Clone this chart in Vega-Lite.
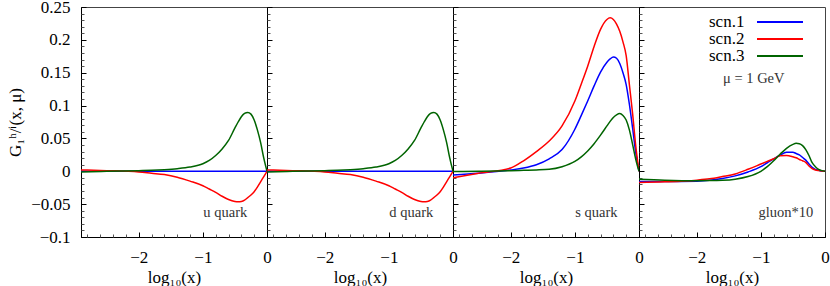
{
"$schema":"https://vega.github.io/schema/vega-lite/v6.json",
"background":"white",
"padding":{"left":6,"top":-3,"right":0,"bottom":0},
"spacing":0,
"bounds":"flush",
"config":{"font":"'Liberation Serif', 'Times New Roman', serif","view":{"stroke":"#444","strokeWidth":1},
"text":{"font":"'Liberation Serif', 'Times New Roman', serif"},
"axis":{"grid":false,"labelFont":"'Liberation Serif', 'Times New Roman', serif","labelFontSize":17,"labelColor":"#000","titleFont":"'Liberation Serif', 'Times New Roman', serif","titleFontSize":17,"titleFontWeight":"normal","titleColor":"#000","tickColor":"#000","domainColor":"#000","labelFlush":false,"labelOverlap":false},
"legend":{"labelFont":"'Liberation Serif', 'Times New Roman', serif"}},
"datasets":{"curves":[
{"p":"u","s":"scn.1","x":-2.9,"y":0},{"p":"u","s":"scn.1","x":-2.5,"y":0},{"p":"u","s":"scn.1","x":-2,"y":0},{"p":"u","s":"scn.1","x":-1.8,"y":0},{"p":"u","s":"scn.1","x":-1.6,"y":0},{"p":"u","s":"scn.1","x":-1.4,"y":0},{"p":"u","s":"scn.1","x":-1.2,"y":0},{"p":"u","s":"scn.1","x":-1,"y":0},{"p":"u","s":"scn.1","x":-0.9,"y":0},{"p":"u","s":"scn.1","x":-0.8,"y":0},{"p":"u","s":"scn.1","x":-0.7,"y":0},{"p":"u","s":"scn.1","x":-0.6,"y":0},{"p":"u","s":"scn.1","x":-0.5,"y":0},{"p":"u","s":"scn.1","x":-0.45,"y":0},{"p":"u","s":"scn.1","x":-0.4,"y":0},{"p":"u","s":"scn.1","x":-0.35,"y":0},{"p":"u","s":"scn.1","x":-0.3,"y":0},{"p":"u","s":"scn.1","x":-0.25,"y":0},{"p":"u","s":"scn.1","x":-0.2,"y":0},{"p":"u","s":"scn.1","x":-0.15,"y":0},{"p":"u","s":"scn.1","x":-0.1,"y":0},{"p":"u","s":"scn.1","x":-0.05,"y":0},{"p":"u","s":"scn.1","x":0,"y":0},
{"p":"u","s":"scn.2","x":-2.9,"y":0.002},{"p":"u","s":"scn.2","x":-2.5,"y":0.001},{"p":"u","s":"scn.2","x":-2,"y":-0.001},{"p":"u","s":"scn.2","x":-1.8,"y":-0.003},{"p":"u","s":"scn.2","x":-1.6,"y":-0.005},{"p":"u","s":"scn.2","x":-1.4,"y":-0.009},{"p":"u","s":"scn.2","x":-1.2,"y":-0.015},{"p":"u","s":"scn.2","x":-1,"y":-0.022},{"p":"u","s":"scn.2","x":-0.9,"y":-0.027},{"p":"u","s":"scn.2","x":-0.8,"y":-0.032},{"p":"u","s":"scn.2","x":-0.7,"y":-0.038},{"p":"u","s":"scn.2","x":-0.6,"y":-0.043},{"p":"u","s":"scn.2","x":-0.5,"y":-0.046},{"p":"u","s":"scn.2","x":-0.45,"y":-0.0465},{"p":"u","s":"scn.2","x":-0.4,"y":-0.046},{"p":"u","s":"scn.2","x":-0.35,"y":-0.044},{"p":"u","s":"scn.2","x":-0.3,"y":-0.04},{"p":"u","s":"scn.2","x":-0.25,"y":-0.036},{"p":"u","s":"scn.2","x":-0.2,"y":-0.031},{"p":"u","s":"scn.2","x":-0.15,"y":-0.024},{"p":"u","s":"scn.2","x":-0.1,"y":-0.016},{"p":"u","s":"scn.2","x":-0.05,"y":-0.008},{"p":"u","s":"scn.2","x":0,"y":0},
{"p":"u","s":"scn.3","x":-2.9,"y":-0.001},{"p":"u","s":"scn.3","x":-2.5,"y":0},{"p":"u","s":"scn.3","x":-2,"y":0.001},{"p":"u","s":"scn.3","x":-1.8,"y":0.0015},{"p":"u","s":"scn.3","x":-1.6,"y":0.0025},{"p":"u","s":"scn.3","x":-1.4,"y":0.004},{"p":"u","s":"scn.3","x":-1.2,"y":0.0065},{"p":"u","s":"scn.3","x":-1,"y":0.0115},{"p":"u","s":"scn.3","x":-0.9,"y":0.0165},{"p":"u","s":"scn.3","x":-0.8,"y":0.024},{"p":"u","s":"scn.3","x":-0.7,"y":0.034},{"p":"u","s":"scn.3","x":-0.6,"y":0.047},{"p":"u","s":"scn.3","x":-0.5,"y":0.066},{"p":"u","s":"scn.3","x":-0.45,"y":0.075},{"p":"u","s":"scn.3","x":-0.4,"y":0.083},{"p":"u","s":"scn.3","x":-0.35,"y":0.088},{"p":"u","s":"scn.3","x":-0.3,"y":0.0895},{"p":"u","s":"scn.3","x":-0.25,"y":0.087},{"p":"u","s":"scn.3","x":-0.2,"y":0.078},{"p":"u","s":"scn.3","x":-0.15,"y":0.063},{"p":"u","s":"scn.3","x":-0.1,"y":0.044},{"p":"u","s":"scn.3","x":-0.05,"y":0.02},{"p":"u","s":"scn.3","x":0,"y":0},
{"p":"d","s":"scn.1","x":-2.9,"y":0},{"p":"d","s":"scn.1","x":-2.5,"y":0},{"p":"d","s":"scn.1","x":-2,"y":0},{"p":"d","s":"scn.1","x":-1.8,"y":0},{"p":"d","s":"scn.1","x":-1.6,"y":0},{"p":"d","s":"scn.1","x":-1.4,"y":0},{"p":"d","s":"scn.1","x":-1.2,"y":0},{"p":"d","s":"scn.1","x":-1,"y":0},{"p":"d","s":"scn.1","x":-0.9,"y":0},{"p":"d","s":"scn.1","x":-0.8,"y":0},{"p":"d","s":"scn.1","x":-0.7,"y":0},{"p":"d","s":"scn.1","x":-0.6,"y":0},{"p":"d","s":"scn.1","x":-0.5,"y":0},{"p":"d","s":"scn.1","x":-0.45,"y":0},{"p":"d","s":"scn.1","x":-0.4,"y":0},{"p":"d","s":"scn.1","x":-0.35,"y":0},{"p":"d","s":"scn.1","x":-0.3,"y":0},{"p":"d","s":"scn.1","x":-0.25,"y":0},{"p":"d","s":"scn.1","x":-0.2,"y":0},{"p":"d","s":"scn.1","x":-0.15,"y":0},{"p":"d","s":"scn.1","x":-0.1,"y":0},{"p":"d","s":"scn.1","x":-0.05,"y":0},{"p":"d","s":"scn.1","x":0,"y":0},
{"p":"d","s":"scn.2","x":-2.9,"y":0.002},{"p":"d","s":"scn.2","x":-2.5,"y":0.001},{"p":"d","s":"scn.2","x":-2,"y":-0.001},{"p":"d","s":"scn.2","x":-1.8,"y":-0.003},{"p":"d","s":"scn.2","x":-1.6,"y":-0.005},{"p":"d","s":"scn.2","x":-1.4,"y":-0.009},{"p":"d","s":"scn.2","x":-1.2,"y":-0.015},{"p":"d","s":"scn.2","x":-1,"y":-0.022},{"p":"d","s":"scn.2","x":-0.9,"y":-0.027},{"p":"d","s":"scn.2","x":-0.8,"y":-0.032},{"p":"d","s":"scn.2","x":-0.7,"y":-0.038},{"p":"d","s":"scn.2","x":-0.6,"y":-0.043},{"p":"d","s":"scn.2","x":-0.5,"y":-0.046},{"p":"d","s":"scn.2","x":-0.45,"y":-0.0465},{"p":"d","s":"scn.2","x":-0.4,"y":-0.046},{"p":"d","s":"scn.2","x":-0.35,"y":-0.044},{"p":"d","s":"scn.2","x":-0.3,"y":-0.04},{"p":"d","s":"scn.2","x":-0.25,"y":-0.036},{"p":"d","s":"scn.2","x":-0.2,"y":-0.031},{"p":"d","s":"scn.2","x":-0.15,"y":-0.024},{"p":"d","s":"scn.2","x":-0.1,"y":-0.016},{"p":"d","s":"scn.2","x":-0.05,"y":-0.008},{"p":"d","s":"scn.2","x":0,"y":0},
{"p":"d","s":"scn.3","x":-2.9,"y":-0.001},{"p":"d","s":"scn.3","x":-2.5,"y":0},{"p":"d","s":"scn.3","x":-2,"y":0.001},{"p":"d","s":"scn.3","x":-1.8,"y":0.0015},{"p":"d","s":"scn.3","x":-1.6,"y":0.0025},{"p":"d","s":"scn.3","x":-1.4,"y":0.004},{"p":"d","s":"scn.3","x":-1.2,"y":0.0065},{"p":"d","s":"scn.3","x":-1,"y":0.0115},{"p":"d","s":"scn.3","x":-0.9,"y":0.0165},{"p":"d","s":"scn.3","x":-0.8,"y":0.024},{"p":"d","s":"scn.3","x":-0.7,"y":0.034},{"p":"d","s":"scn.3","x":-0.6,"y":0.047},{"p":"d","s":"scn.3","x":-0.5,"y":0.066},{"p":"d","s":"scn.3","x":-0.45,"y":0.075},{"p":"d","s":"scn.3","x":-0.4,"y":0.083},{"p":"d","s":"scn.3","x":-0.35,"y":0.088},{"p":"d","s":"scn.3","x":-0.3,"y":0.0895},{"p":"d","s":"scn.3","x":-0.25,"y":0.087},{"p":"d","s":"scn.3","x":-0.2,"y":0.078},{"p":"d","s":"scn.3","x":-0.15,"y":0.063},{"p":"d","s":"scn.3","x":-0.1,"y":0.044},{"p":"d","s":"scn.3","x":-0.05,"y":0.02},{"p":"d","s":"scn.3","x":0,"y":0},
{"p":"s","s":"scn.1","x":-2.9,"y":-0.0056},{"p":"s","s":"scn.1","x":-2.5,"y":-0.003},{"p":"s","s":"scn.1","x":-2,"y":0.002},{"p":"s","s":"scn.1","x":-1.8,"y":0.005},{"p":"s","s":"scn.1","x":-1.6,"y":0.01},{"p":"s","s":"scn.1","x":-1.4,"y":0.019},{"p":"s","s":"scn.1","x":-1.2,"y":0.033},{"p":"s","s":"scn.1","x":-1,"y":0.064},{"p":"s","s":"scn.1","x":-0.9,"y":0.085},{"p":"s","s":"scn.1","x":-0.8,"y":0.107},{"p":"s","s":"scn.1","x":-0.7,"y":0.13},{"p":"s","s":"scn.1","x":-0.6,"y":0.151},{"p":"s","s":"scn.1","x":-0.5,"y":0.166},{"p":"s","s":"scn.1","x":-0.45,"y":0.171},{"p":"s","s":"scn.1","x":-0.4,"y":0.174},{"p":"s","s":"scn.1","x":-0.35,"y":0.172},{"p":"s","s":"scn.1","x":-0.3,"y":0.164},{"p":"s","s":"scn.1","x":-0.25,"y":0.15},{"p":"s","s":"scn.1","x":-0.2,"y":0.132},{"p":"s","s":"scn.1","x":-0.15,"y":0.102},{"p":"s","s":"scn.1","x":-0.1,"y":0.066},{"p":"s","s":"scn.1","x":-0.05,"y":0.028},{"p":"s","s":"scn.1","x":0,"y":0},
{"p":"s","s":"scn.2","x":-2.9,"y":-0.01},{"p":"s","s":"scn.2","x":-2.5,"y":-0.003},{"p":"s","s":"scn.2","x":-2,"y":0.005},{"p":"s","s":"scn.2","x":-1.8,"y":0.016},{"p":"s","s":"scn.2","x":-1.6,"y":0.03},{"p":"s","s":"scn.2","x":-1.4,"y":0.046},{"p":"s","s":"scn.2","x":-1.2,"y":0.069},{"p":"s","s":"scn.2","x":-1,"y":0.107},{"p":"s","s":"scn.2","x":-0.9,"y":0.133},{"p":"s","s":"scn.2","x":-0.8,"y":0.16},{"p":"s","s":"scn.2","x":-0.7,"y":0.19},{"p":"s","s":"scn.2","x":-0.6,"y":0.216},{"p":"s","s":"scn.2","x":-0.5,"y":0.231},{"p":"s","s":"scn.2","x":-0.45,"y":0.2335},{"p":"s","s":"scn.2","x":-0.4,"y":0.231},{"p":"s","s":"scn.2","x":-0.35,"y":0.224},{"p":"s","s":"scn.2","x":-0.3,"y":0.213},{"p":"s","s":"scn.2","x":-0.25,"y":0.197},{"p":"s","s":"scn.2","x":-0.2,"y":0.176},{"p":"s","s":"scn.2","x":-0.15,"y":0.132},{"p":"s","s":"scn.2","x":-0.1,"y":0.088},{"p":"s","s":"scn.2","x":-0.05,"y":0.038},{"p":"s","s":"scn.2","x":0,"y":0},
{"p":"s","s":"scn.3","x":-2.9,"y":-0.0005},{"p":"s","s":"scn.3","x":-2.5,"y":0},{"p":"s","s":"scn.3","x":-2,"y":0.001},{"p":"s","s":"scn.3","x":-1.8,"y":0.0015},{"p":"s","s":"scn.3","x":-1.6,"y":0.002},{"p":"s","s":"scn.3","x":-1.4,"y":0.003},{"p":"s","s":"scn.3","x":-1.2,"y":0.007},{"p":"s","s":"scn.3","x":-1,"y":0.015},{"p":"s","s":"scn.3","x":-0.9,"y":0.022},{"p":"s","s":"scn.3","x":-0.8,"y":0.031},{"p":"s","s":"scn.3","x":-0.7,"y":0.042},{"p":"s","s":"scn.3","x":-0.6,"y":0.055},{"p":"s","s":"scn.3","x":-0.5,"y":0.069},{"p":"s","s":"scn.3","x":-0.45,"y":0.076},{"p":"s","s":"scn.3","x":-0.4,"y":0.082},{"p":"s","s":"scn.3","x":-0.35,"y":0.086},{"p":"s","s":"scn.3","x":-0.3,"y":0.088},{"p":"s","s":"scn.3","x":-0.25,"y":0.085},{"p":"s","s":"scn.3","x":-0.2,"y":0.078},{"p":"s","s":"scn.3","x":-0.15,"y":0.063},{"p":"s","s":"scn.3","x":-0.1,"y":0.041},{"p":"s","s":"scn.3","x":-0.05,"y":0.018},{"p":"s","s":"scn.3","x":0,"y":0},
{"p":"g","s":"scn.1","x":-2.9,"y":-0.0157},{"p":"g","s":"scn.1","x":-2.5,"y":-0.0157},{"p":"g","s":"scn.1","x":-2,"y":-0.015},{"p":"g","s":"scn.1","x":-1.8,"y":-0.0138},{"p":"g","s":"scn.1","x":-1.6,"y":-0.011},{"p":"g","s":"scn.1","x":-1.4,"y":-0.007},{"p":"g","s":"scn.1","x":-1.2,"y":-0.001},{"p":"g","s":"scn.1","x":-1,"y":0.007},{"p":"g","s":"scn.1","x":-0.9,"y":0.013},{"p":"g","s":"scn.1","x":-0.8,"y":0.019},{"p":"g","s":"scn.1","x":-0.7,"y":0.0245},{"p":"g","s":"scn.1","x":-0.6,"y":0.029},{"p":"g","s":"scn.1","x":-0.5,"y":0.029},{"p":"g","s":"scn.1","x":-0.45,"y":0.027},{"p":"g","s":"scn.1","x":-0.4,"y":0.025},{"p":"g","s":"scn.1","x":-0.35,"y":0.021},{"p":"g","s":"scn.1","x":-0.3,"y":0.017},{"p":"g","s":"scn.1","x":-0.25,"y":0.011},{"p":"g","s":"scn.1","x":-0.2,"y":0.006},{"p":"g","s":"scn.1","x":-0.15,"y":0.003},{"p":"g","s":"scn.1","x":-0.1,"y":0.0015},{"p":"g","s":"scn.1","x":-0.05,"y":0.0003},{"p":"g","s":"scn.1","x":0,"y":0},
{"p":"g","s":"scn.2","x":-2.9,"y":-0.017},{"p":"g","s":"scn.2","x":-2.5,"y":-0.016},{"p":"g","s":"scn.2","x":-2,"y":-0.0135},{"p":"g","s":"scn.2","x":-1.8,"y":-0.0115},{"p":"g","s":"scn.2","x":-1.6,"y":-0.008},{"p":"g","s":"scn.2","x":-1.4,"y":-0.004},{"p":"g","s":"scn.2","x":-1.2,"y":0.003},{"p":"g","s":"scn.2","x":-1,"y":0.011},{"p":"g","s":"scn.2","x":-0.9,"y":0.015},{"p":"g","s":"scn.2","x":-0.8,"y":0.019},{"p":"g","s":"scn.2","x":-0.7,"y":0.0235},{"p":"g","s":"scn.2","x":-0.6,"y":0.024},{"p":"g","s":"scn.2","x":-0.5,"y":0.022},{"p":"g","s":"scn.2","x":-0.45,"y":0.0205},{"p":"g","s":"scn.2","x":-0.4,"y":0.018},{"p":"g","s":"scn.2","x":-0.35,"y":0.016},{"p":"g","s":"scn.2","x":-0.3,"y":0.0135},{"p":"g","s":"scn.2","x":-0.25,"y":0.008},{"p":"g","s":"scn.2","x":-0.2,"y":0.004},{"p":"g","s":"scn.2","x":-0.15,"y":0.002},{"p":"g","s":"scn.2","x":-0.1,"y":0.001},{"p":"g","s":"scn.2","x":-0.05,"y":0.0003},{"p":"g","s":"scn.2","x":0,"y":0},
{"p":"g","s":"scn.3","x":-2.9,"y":-0.012},{"p":"g","s":"scn.3","x":-2.5,"y":-0.0135},{"p":"g","s":"scn.3","x":-2,"y":-0.0143},{"p":"g","s":"scn.3","x":-1.8,"y":-0.0142},{"p":"g","s":"scn.3","x":-1.6,"y":-0.0137},{"p":"g","s":"scn.3","x":-1.4,"y":-0.012},{"p":"g","s":"scn.3","x":-1.2,"y":-0.008},{"p":"g","s":"scn.3","x":-1,"y":0},{"p":"g","s":"scn.3","x":-0.9,"y":0.007},{"p":"g","s":"scn.3","x":-0.8,"y":0.016},{"p":"g","s":"scn.3","x":-0.7,"y":0.026},{"p":"g","s":"scn.3","x":-0.6,"y":0.035},{"p":"g","s":"scn.3","x":-0.5,"y":0.041},{"p":"g","s":"scn.3","x":-0.45,"y":0.0425},{"p":"g","s":"scn.3","x":-0.4,"y":0.042},{"p":"g","s":"scn.3","x":-0.35,"y":0.039},{"p":"g","s":"scn.3","x":-0.3,"y":0.033},{"p":"g","s":"scn.3","x":-0.25,"y":0.024},{"p":"g","s":"scn.3","x":-0.2,"y":0.013},{"p":"g","s":"scn.3","x":-0.15,"y":0.007},{"p":"g","s":"scn.3","x":-0.1,"y":0.003},{"p":"g","s":"scn.3","x":-0.05,"y":0.001},{"p":"g","s":"scn.3","x":0,"y":0}
]},
"hconcat":[
{"width":186,"height":230,
 "layer":[
  {"data":{"name":"curves"},"transform":[{"filter":"datum.p==='u'"}],
   "mark":{"type":"line","interpolate":"monotone","strokeWidth":1.5,"clip":true},
   "encoding":{
    "x":{"field":"x","type":"quantitative","scale":{"domain":[-2.9,0],"nice":false,"zero":false},"axis":{"values":[-2,-1,0],"format":"~g","tickSize":-5,"labelPadding":17,"title":"log₁₀(x)","titlePadding":4}},
    "y":{"field":"y","type":"quantitative","scale":{"domain":[-0.1,0.25],"nice":false,"zero":false},"axis":{"values":[-0.1,-0.05,0,0.05,0.1,0.15,0.2,0.25],"format":"~g","tickSize":-5,"labelPadding":16,"title":"G₁ʰ/ⁱ(x, μ)","titlePadding":6}},
    "color":{"field":"s","type":"nominal","scale":{"domain":["scn.1","scn.2","scn.3"],"range":["#0000ff","#ff0000","#006400"]},
      "legend":{"orient":"none","legendX":690,"legendY":6,"title":null,"symbolType":"M-3,0H3","symbolSize":235,"symbolStrokeWidth":2,"labelAlign":"right","labelOffset":-44.6,"labelFontSize":17,"labelColor":"#000","padding":0,"rowPadding":0,"labelLimit":0}}}},
  {"data":{"values":[{}]},
   "mark":{"type":"text","fontSize":14.5,"color":"#333","baseline":"alphabetic","align":"center"},
   "encoding":{
    "x":{"datum":-0.65,"type":"quantitative","axis":{"orient":"bottom","values":[-2.8,-2.6,-2.4,-2.2,-1.8,-1.6,-1.4,-1.2,-0.8,-0.6,-0.4,-0.2],"labels":false,"domain":false,"tickSize":-3,"title":null,"tickColor":"#555"}},
    "y":{"datum":-0.07,"type":"quantitative","axis":{"orient":"left","values":[-0.09,-0.08,-0.07,-0.06,-0.04,-0.03,-0.02,-0.01,0.01,0.02,0.03,0.04,0.06,0.07,0.08,0.09,0.11,0.12,0.13,0.14,0.16,0.17,0.18,0.19,0.21,0.22,0.23,0.24],"labels":false,"domain":false,"tickSize":-3,"title":null,"tickColor":"#555"}},
    "text":{"value":"u quark"}}}
 ],
 "resolve":{"axis":{"x":"independent","y":"independent"}}},
{"width":186,"height":230,
 "layer":[
  {"data":{"name":"curves"},"transform":[{"filter":"datum.p==='d'"}],
   "mark":{"type":"line","interpolate":"monotone","strokeWidth":1.5,"clip":true},
   "encoding":{
    "x":{"field":"x","type":"quantitative","scale":{"domain":[-2.9,0],"nice":false,"zero":false},"axis":{"values":[-2,-1,0],"format":"~g","tickSize":-5,"labelPadding":17,"title":"log₁₀(x)","titlePadding":4}},
    "y":{"field":"y","type":"quantitative","scale":{"domain":[-0.1,0.25],"nice":false,"zero":false},"axis":{"values":[-0.1,-0.05,0,0.05,0.1,0.15,0.2,0.25],"labels":false,"tickSize":-5,"title":null}},
    "color":{"field":"s","type":"nominal","scale":{"domain":["scn.1","scn.2","scn.3"],"range":["#0000ff","#ff0000","#006400"]}}}},
  {"data":{"values":[{}]},
   "mark":{"type":"text","fontSize":14.5,"color":"#333","baseline":"alphabetic","align":"center"},
   "encoding":{
    "x":{"datum":-0.65,"type":"quantitative","axis":{"orient":"bottom","values":[-2.8,-2.6,-2.4,-2.2,-1.8,-1.6,-1.4,-1.2,-0.8,-0.6,-0.4,-0.2],"labels":false,"domain":false,"tickSize":-3,"title":null,"tickColor":"#555"}},
    "y":{"datum":-0.07,"type":"quantitative","axis":{"orient":"left","values":[-0.09,-0.08,-0.07,-0.06,-0.04,-0.03,-0.02,-0.01,0.01,0.02,0.03,0.04,0.06,0.07,0.08,0.09,0.11,0.12,0.13,0.14,0.16,0.17,0.18,0.19,0.21,0.22,0.23,0.24],"labels":false,"domain":false,"tickSize":-3,"title":null,"tickColor":"#555"}},
    "text":{"value":"d quark"}}}
 ],
 "resolve":{"axis":{"x":"independent","y":"independent"}}},
{"width":186,"height":230,
 "layer":[
  {"data":{"name":"curves"},"transform":[{"filter":"datum.p==='s'"}],
   "mark":{"type":"line","interpolate":"monotone","strokeWidth":1.5,"clip":true},
   "encoding":{
    "x":{"field":"x","type":"quantitative","scale":{"domain":[-2.9,0],"nice":false,"zero":false},"axis":{"values":[-2,-1,0],"format":"~g","tickSize":-5,"labelPadding":17,"title":"log₁₀(x)","titlePadding":4}},
    "y":{"field":"y","type":"quantitative","scale":{"domain":[-0.1,0.25],"nice":false,"zero":false},"axis":{"values":[-0.1,-0.05,0,0.05,0.1,0.15,0.2,0.25],"labels":false,"tickSize":-5,"title":null}},
    "color":{"field":"s","type":"nominal","scale":{"domain":["scn.1","scn.2","scn.3"],"range":["#0000ff","#ff0000","#006400"]}}}},
  {"data":{"values":[{}]},
   "mark":{"type":"text","fontSize":14.5,"color":"#333","baseline":"alphabetic","align":"center"},
   "encoding":{
    "x":{"datum":-0.665,"type":"quantitative","axis":{"orient":"bottom","values":[-2.8,-2.6,-2.4,-2.2,-1.8,-1.6,-1.4,-1.2,-0.8,-0.6,-0.4,-0.2],"labels":false,"domain":false,"tickSize":-3,"title":null,"tickColor":"#555"}},
    "y":{"datum":-0.07,"type":"quantitative","axis":{"orient":"left","values":[-0.09,-0.08,-0.07,-0.06,-0.04,-0.03,-0.02,-0.01,0.01,0.02,0.03,0.04,0.06,0.07,0.08,0.09,0.11,0.12,0.13,0.14,0.16,0.17,0.18,0.19,0.21,0.22,0.23,0.24],"labels":false,"domain":false,"tickSize":-3,"title":null,"tickColor":"#555"}},
    "text":{"value":"s quark"}}}
 ],
 "resolve":{"axis":{"x":"independent","y":"independent"}}},
{"width":186,"height":230,
 "layer":[
  {"data":{"name":"curves"},"transform":[{"filter":"datum.p==='g'"}],
   "mark":{"type":"line","interpolate":"monotone","strokeWidth":1.5,"clip":true},
   "encoding":{
    "x":{"field":"x","type":"quantitative","scale":{"domain":[-2.9,0],"nice":false,"zero":false},"axis":{"values":[-2,-1,0],"format":"~g","tickSize":-5,"labelPadding":17,"title":"log₁₀(x)","titlePadding":4}},
    "y":{"field":"y","type":"quantitative","scale":{"domain":[-0.1,0.25],"nice":false,"zero":false},"axis":{"values":[-0.1,-0.05,0,0.05,0.1,0.15,0.2,0.25],"labels":false,"tickSize":-5,"title":null}},
    "color":{"field":"s","type":"nominal","scale":{"domain":["scn.1","scn.2","scn.3"],"range":["#0000ff","#ff0000","#006400"]}}}},
  {"data":{"values":[{}]},
   "mark":{"type":"text","fontSize":14.5,"color":"#333","baseline":"alphabetic","align":"center"},
   "encoding":{
    "x":{"datum":-0.61,"type":"quantitative","axis":{"orient":"bottom","values":[-2.8,-2.6,-2.4,-2.2,-1.8,-1.6,-1.4,-1.2,-0.8,-0.6,-0.4,-0.2],"labels":false,"domain":false,"tickSize":-3,"title":null,"tickColor":"#555"}},
    "y":{"datum":-0.07,"type":"quantitative","axis":{"orient":"left","values":[-0.09,-0.08,-0.07,-0.06,-0.04,-0.03,-0.02,-0.01,0.01,0.02,0.03,0.04,0.06,0.07,0.08,0.09,0.11,0.12,0.13,0.14,0.16,0.17,0.18,0.19,0.21,0.22,0.23,0.24],"labels":false,"domain":false,"tickSize":-3,"title":null,"tickColor":"#555"}},
    "text":{"value":"gluon*10"}}},
  {"data":{"values":[{}]},
   "mark":{"type":"text","fontSize":14.5,"color":"#333","baseline":"alphabetic","align":"center"},
   "encoding":{
    "x":{"datum":-1.11,"type":"quantitative","axis":null},
    "y":{"datum":0.1336,"type":"quantitative","axis":null},
    "text":{"value":"μ = 1 GeV"}}}
 ],
 "resolve":{"axis":{"x":"independent","y":"independent"}}}
]
}
